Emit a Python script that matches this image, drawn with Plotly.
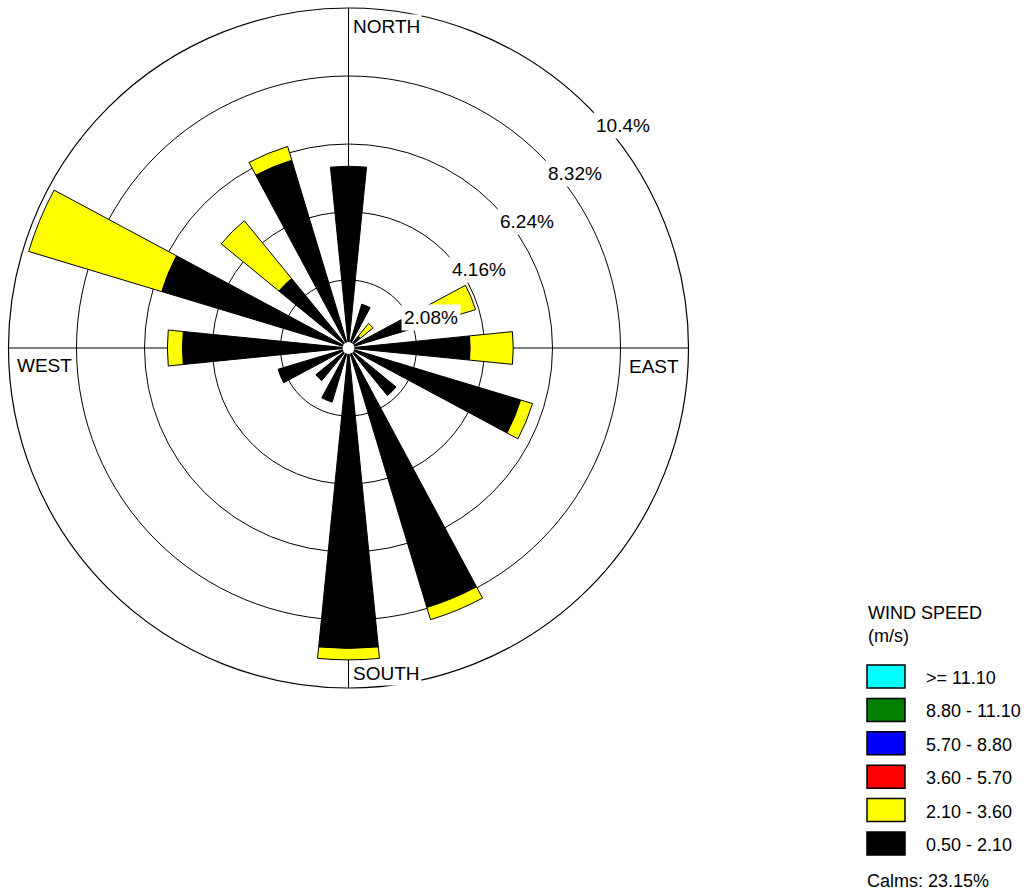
import plotly.graph_objects as go

# ---------------- data ----------------
directions = ["N", "NNE", "NE", "ENE", "E", "ESE", "SE", "SSE",
              "S", "SSW", "SW", "WSW", "W", "WNW", "NW", "NNW"]
direction_deg = [0, 22.5, 45, 67.5, 90, 112.5, 135, 157.5,
                 180, 202.5, 225, 247.5, 270, 292.5, 315, 337.5]

# frequency (%) per wind-speed class
pct_050_210 = [5.56, 1.40, 0.47, 2.70, 3.72, 5.50, 1.88, 8.29,
               9.19, 1.73, 1.29, 2.25, 5.08, 5.97, 2.75, 6.00]
pct_210_360 = [0.00, 0.00, 0.50, 1.36, 1.32, 0.38, 0.00, 0.39,
               0.35, 0.00, 0.00, 0.00, 0.46, 4.25, 2.28, 0.44]
pct_360_570 = [0, 0, 0, 0, 0, 0, 0, 0, 0, 0, 0, 0, 0, 0, 0, 0]
pct_570_880 = [0, 0, 0, 0, 0, 0, 0, 0, 0, 0, 0, 0, 0, 0, 0, 0]
pct_880_1110 = [0, 0, 0, 0, 0, 0, 0, 0, 0, 0, 0, 0, 0, 0, 0, 0]
pct_ge_1110 = [0, 0, 0, 0, 0, 0, 0, 0, 0, 0, 0, 0, 0, 0, 0, 0]

class_labels = ["0.50 - 2.10", "2.10 - 3.60", "3.60 - 5.70",
                "5.70 - 8.80", "8.80 - 11.10", ">= 11.10"]
class_colors = ["#000000", "#FFFF00", "#FF0000", "#0000FF", "#007F00", "#00FFFF"]
class_values = [pct_050_210, pct_210_360, pct_360_570, pct_570_880, pct_880_1110, pct_ge_1110]

ring_vals = [2.08, 4.16, 6.24, 8.32, 10.4]
ring_labels = ["2.08%", "4.16%", "6.24%", "8.32%", "10.4%"]
compass_labels = ["NORTH", "EAST", "SOUTH", "WEST"]
calm_pct = 23.15
legend_title = "WIND SPEED<br>(m/s)"

# ---------------- layout helpers ----------------
W, H = 1026, 892
FONT = "Liberation Sans, Arial, sans-serif"
RMAX = ring_vals[-1]
dom_x = [8.5 / W, 688.5 / W]
dom_y = [1 - 688 / H, 1 - 8 / H]


def px(x):
    return x / W


def py(y):
    return 1 - y / H


fig = go.Figure()

for vals, lab, col in zip(class_values, class_labels, class_colors):
    if max(vals) <= 0:
        continue
    fig.add_trace(go.Barpolar(
        r=vals, theta=direction_deg, width=11.4, name=lab,
        marker=dict(color=col, line=dict(color="black", width=1)),
        text=directions, hovertemplate="%{text}: %{r}%<extra>" + lab + "</extra>",
        showlegend=False,
    ))

# white hole at the centre
fig.add_trace(go.Scatterpolar(
    r=[0], theta=[0], mode="markers",
    marker=dict(color="white", size=12, line=dict(width=0)),
    hoverinfo="skip", showlegend=False,
))

# invisible cartesian overlay (for placing labels in % units)
fig.add_trace(go.Scatter(
    x=[-RMAX, RMAX], y=[-RMAX, RMAX], mode="markers",
    marker=dict(opacity=0), hoverinfo="skip", showlegend=False,
))

annotations = []
# ring labels
s45 = 0.70710678
for v, t in zip(ring_vals, ring_labels):
    annotations.append(dict(
        x=v * s45, y=v * s45, xref="x", yref="y", text=t, showarrow=False,
        xanchor="center", yanchor="middle", xshift=34, yshift=-18,
        bgcolor="white", borderpad=2, font=dict(family=FONT, size=19, color="black"),
    ))

# compass labels
annotations.append(dict(x=0, y=RMAX, xref="x", yref="y", text=compass_labels[0],
                        showarrow=False, xanchor="left", yanchor="middle",
                        xshift=2, yshift=-18.5, bgcolor="white", borderpad=1,
                        font=dict(family=FONT, size=19, color="black")))
annotations.append(dict(x=0, y=-RMAX, xref="x", yref="y", text=compass_labels[2],
                        showarrow=False, xanchor="left", yanchor="middle",
                        xshift=2, yshift=15, bgcolor="white", borderpad=1,
                        font=dict(family=FONT, size=19, color="black")))
annotations.append(dict(x=-RMAX, y=0, xref="x", yref="y", text=compass_labels[3],
                        showarrow=False, xanchor="left", yanchor="middle",
                        xshift=6, yshift=-17,
                        font=dict(family=FONT, size=19, color="black")))
annotations.append(dict(x=RMAX, y=0, xref="x", yref="y", text=compass_labels[1],
                        showarrow=False, xanchor="right", yanchor="middle",
                        xshift=-8, yshift=-18,
                        font=dict(family=FONT, size=19, color="black")))

# manual legend
LFONT = dict(family=FONT, size=18, color="black")
annotations.append(dict(x=px(866), y=py(624), xref="paper", yref="paper",
                        text=legend_title, showarrow=False, align="left",
                        xanchor="left", yanchor="middle", font=LFONT))
shapes = []
legend_order = list(range(len(class_labels)))[::-1]
for i, k in enumerate(legend_order):
    top = 665 + 33.4 * i
    shapes.append(dict(type="rect", xref="paper", yref="paper",
                       x0=px(867), x1=px(905), y0=py(top + 23), y1=py(top),
                       fillcolor=class_colors[k], line=dict(color="black", width=1.5)))
    annotations.append(dict(x=px(924), y=py(top + 13), xref="paper", yref="paper",
                            text=class_labels[k], showarrow=False,
                            xanchor="left", yanchor="middle", font=LFONT))
annotations.append(dict(x=px(865), y=py(881), xref="paper", yref="paper",
                        text="Calms: %.2f%%" % calm_pct, showarrow=False,
                        xanchor="left", yanchor="middle", font=LFONT))

fig.update_layout(
    width=W, height=H,
    margin=dict(l=0, r=0, t=0, b=0),
    paper_bgcolor="white", plot_bgcolor="white",
    showlegend=False,
    polar=dict(
        domain=dict(x=dom_x, y=dom_y),
        bgcolor="white",
        barmode="stack",
        radialaxis=dict(range=[0, RMAX], tickvals=ring_vals[:-1], showticklabels=False,
                        ticks="", showline=False, gridcolor="black", gridwidth=1),
        angularaxis=dict(direction="clockwise", rotation=90, tickvals=[0, 90, 180, 270],
                         showticklabels=False, ticks="", showline=True,
                         linecolor="black", linewidth=1.2,
                         gridcolor="black", gridwidth=1),
    ),
    xaxis=dict(domain=dom_x, range=[-RMAX, RMAX], visible=False, fixedrange=True),
    yaxis=dict(domain=dom_y, range=[-RMAX, RMAX], visible=False, fixedrange=True),
    annotations=annotations,
    shapes=shapes,
)

fig.write_html("out.html")
